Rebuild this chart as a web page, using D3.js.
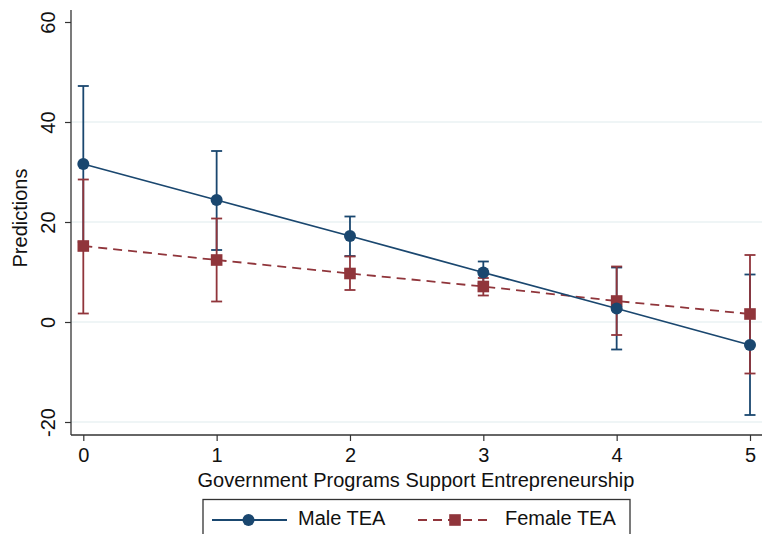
<!DOCTYPE html>
<html><head><meta charset="utf-8">
<script src="https://cdn.jsdelivr.net/npm/d3@7"></script>
<style>body{margin:0;background:#fff;} text{font-family:"Liberation Sans",Arial,Helvetica,sans-serif;}</style>
</head><body>
<svg id="c" width="765" height="534"></svg>
<script>
const xValues = [0, 1, 2, 3, 4, 5];
const maleMean  = [31.6, 24.4, 17.2, 9.9, 2.7, -4.6];
const maleLow   = [16.0, 14.4, 13.2, 7.7, -5.5, -18.6];
const maleHigh  = [47.2, 34.2, 21.1, 12.1, 10.9, 9.5];
const femaleMean = [15.2, 12.4, 9.7, 7.1, 4.2, 1.6];
const femaleLow  = [1.7, 4.1, 6.4, 5.3, -2.6, -10.3];
const femaleHigh = [28.5, 20.7, 13.1, 8.8, 11.1, 13.4];
const yTicks = [-20, 0, 20, 40, 60];
const xTicks = [0, 1, 2, 3, 4, 5];
const seriesNames = ["Male TEA", "Female TEA"];

(function () {
const svg = d3.select("#c");
const blue = "#1a476f", red = "#90353b";
const fs = 20;
const x = d3.scaleLinear().domain([0, 5]).range([83.3, 750]);
const y = d3.scaleLinear().domain([-20, 60]).range([422, 22]);
const pLeft = 71, pBottom = 435, pRight = 762, pTop = 10;

// gridlines
svg.append("g").selectAll("line").data(yTicks.filter(d => d !== 60)).join("line")
  .attr("x1", pLeft).attr("x2", pRight).attr("y1", d => y(d)).attr("y2", d => y(d))
  .attr("stroke", "#eaf2f3").attr("stroke-width", 1.5);

// y axis
const yAxis = d3.axisLeft(y).tickValues(yTicks).tickSize(6).tickFormat(d => String(d));
const gy = svg.append("g").attr("transform", `translate(${pLeft},0)`).call(yAxis);
gy.select(".domain").attr("d", `M0,${pTop}V${pBottom}`).attr("stroke", "#333").attr("stroke-width", 1.3);
gy.selectAll(".tick line").attr("stroke", "#333").attr("stroke-width", 1.2);
gy.selectAll(".tick text").attr("font-size", fs).attr("fill", "#111")
  .attr("x", 0).attr("dy", 0).attr("text-anchor", "middle")
  .attr("transform", "translate(-21,0) rotate(-90)").attr("dominant-baseline", "middle");

// x axis
const xAxis = d3.axisBottom(x).tickValues(xTicks).tickSize(6).tickFormat(d => String(d));
const gx = svg.append("g").attr("transform", `translate(0,${pBottom})`).call(xAxis);
gx.select(".domain").attr("d", `M${pLeft},0H${pRight}`).attr("stroke", "#333").attr("stroke-width", 1.3);
gx.selectAll(".tick line").attr("stroke", "#333").attr("stroke-width", 1.2);
gx.selectAll(".tick text").attr("font-size", fs).attr("fill", "#111").attr("y", 13).attr("dy", "0.71em");

// axis titles
svg.append("text").attr("x", 416).attr("y", 487).attr("text-anchor", "middle")
  .attr("font-size", fs).attr("fill", "#111").text("Government Programs Support Entrepreneurship");
svg.append("text").attr("transform", "translate(22,218) rotate(-90)").attr("text-anchor", "middle")
  .attr("dominant-baseline", "middle").attr("font-size", fs).attr("fill", "#111").text("Predictions");

const capW = 5.5;
function errbars(lo, hi, color) {
  const g = svg.append("g").attr("stroke", color).attr("stroke-width", 1.8).attr("fill", "none");
  xValues.forEach((v, i) => {
    g.append("line").attr("x1", x(v)).attr("x2", x(v)).attr("y1", y(lo[i])).attr("y2", y(hi[i]));
    g.append("line").attr("x1", x(v) - capW).attr("x2", x(v) + capW).attr("y1", y(lo[i])).attr("y2", y(lo[i]));
    g.append("line").attr("x1", x(v) - capW).attr("x2", x(v) + capW).attr("y1", y(hi[i])).attr("y2", y(hi[i]));
  });
}
const line = d3.line().x(d => x(d[0])).y(d => y(d[1]));

errbars(maleLow, maleHigh, blue);
errbars(femaleLow, femaleHigh, red);

svg.append("path").datum(xValues.map((v, i) => [v, femaleMean[i]])).attr("d", line)
  .attr("fill", "none").attr("stroke", red).attr("stroke-width", 1.8).attr("stroke-dasharray", "9,6");
svg.append("path").datum(xValues.map((v, i) => [v, maleMean[i]])).attr("d", line)
  .attr("fill", "none").attr("stroke", blue).attr("stroke-width", 1.8);

svg.append("g").selectAll("rect").data(xValues).join("rect")
  .attr("x", d => x(d) - 5.8).attr("y", (d, i) => y(femaleMean[i]) - 5.8)
  .attr("width", 11.6).attr("height", 11.6).attr("fill", red);
svg.append("g").selectAll("circle").data(xValues).join("circle")
  .attr("cx", d => x(d)).attr("cy", (d, i) => y(maleMean[i])).attr("r", 6).attr("fill", blue);

// legend
const lg = svg.append("g");
lg.append("rect").attr("x", 203).attr("y", 499.5).attr("width", 427).attr("height", 50)
  .attr("fill", "#fff").attr("stroke", "#333").attr("stroke-width", 1.3);
const ly = 520;
lg.append("line").attr("x1", 212).attr("x2", 287).attr("y1", ly).attr("y2", ly).attr("stroke", blue).attr("stroke-width", 1.8);
lg.append("circle").attr("cx", 248.5).attr("cy", ly).attr("r", 6).attr("fill", blue);
lg.append("text").attr("x", 298).attr("y", ly).attr("dominant-baseline", "middle").attr("font-size", fs).attr("fill", "#111").text(seriesNames[0]);
lg.append("line").attr("x1", 418).attr("x2", 493).attr("y1", ly).attr("y2", ly).attr("stroke", red).attr("stroke-width", 1.8).attr("stroke-dasharray", "9,6");
lg.append("rect").attr("x", 455 - 5.8).attr("y", ly - 5.8).attr("width", 11.6).attr("height", 11.6).attr("fill", red);
lg.append("text").attr("x", 505).attr("y", ly).attr("dominant-baseline", "middle").attr("font-size", fs).attr("fill", "#111").text(seriesNames[1]);
})();
</script>
</body></html>
